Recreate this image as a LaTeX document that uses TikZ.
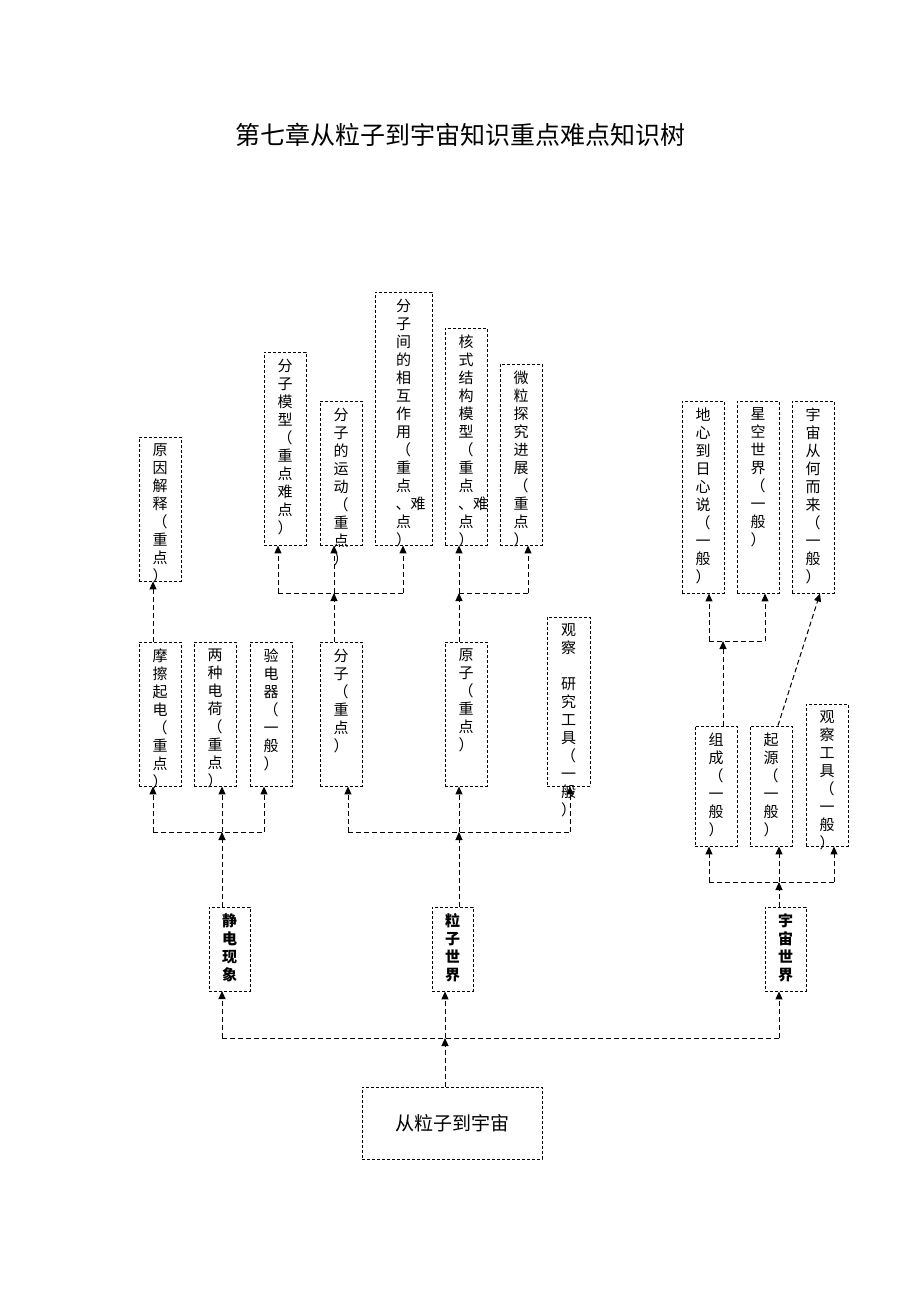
\documentclass[tikz,border=0pt]{standalone}
\usepackage{fontspec}
\setmainfont{Liberation Serif}
\newfontfamily\cjk{Noto Sans CJK SC}
\usetikzlibrary{arrows.meta}
\tikzset{
 bx/.style={draw,dash pattern=on 3pt off 2pt,line width=0.9pt,inner sep=0pt},
 vt/.style={font=\cjk\fontsize{15}{18}\selectfont,align=center,inner sep=0pt,text width=16pt},
 ln/.style={dash pattern=on 5pt off 3pt,line width=1pt},
 ar/.style={ln,-{Triangle[width=7pt,length=8pt]}}
}
\newcommand\vb[6]{%
 \node[bx,minimum width={(#4-#2)*1pt},minimum height={(#5-#3)*1pt}] (#1) at ({(#2+#4)/2},{(#3+#5)/2}) {};
 \node[vt,anchor=north] (#1t) at ([yshift=-7pt]#1.north) {#6};}
\begin{document}
\begin{tikzpicture}[x=1pt,y=-1pt]
\useasboundingbox (0,0) rectangle (920,1302);
\node[font=\cjk\fontsize{25}{28}\selectfont] (title) at (460,135) {第七章从粒子到宇宙知识重点难点知识树};
% top row
\vb{a1}{139}{437}{181}{581}{原\\因\\解\\释\\（\\重\\点\\）}
\vb{b1}{264}{352}{306}{545}{分\\子\\模\\型\\（\\重\\点\\难\\点\\）}
\vb{b2}{320}{401}{362}{545}{分\\子\\的\\运\\动\\（\\重\\点\\）}
\vb{b3}{375}{292}{432}{545}{分\\子\\间\\的\\相\\互\\作\\用\\（\\重\\点\\、难\\点\\）}
\vb{c1}{445}{328}{487}{545}{核\\式\\结\\构\\模\\型\\（\\重\\点\\、难\\点\\）}
\vb{c2}{500}{364}{542}{545}{微\\粒\\探\\究\\进\\展\\（\\重\\点\\）}
\vb{d1}{682}{401}{724}{593}{地\\心\\到\\日\\心\\说\\（\\一\\般\\）}
\vb{d2}{737}{401}{779}{593}{星\\空\\世\\界\\（\\一\\般\\）}
\vb{d3}{792}{401}{834}{593}{宇\\宙\\从\\何\\而\\来\\（\\一\\般\\）}
% second row
\vb{e1}{139}{642}{181}{786}{摩\\擦\\起\\电\\（\\重\\点\\）}
\vb{e2}{194}{642}{236}{786}{两\\种\\电\\荷\\（\\重\\点\\）}
\vb{e3}{250}{642}{292}{786}{验\\电\\器\\（\\一\\般\\）}
\vb{f1}{320}{642}{362}{786}{分\\子\\（\\重\\点\\）}
\vb{f2}{445}{642}{487}{786}{原\\子\\（\\重\\点\\）}
\vb{f3}{547}{617}{590}{786}{观\\察\\~\\研\\究\\工\\具\\（\\一\\般\\）}
\vb{g1}{695}{726}{737}{846}{组\\成\\（\\一\\般\\）}
\vb{g2}{750}{726}{792}{846}{起\\源\\（\\一\\般\\）}
\vb{g3}{806}{704}{848}{846}{观\\察\\工\\具\\（\\一\\般\\）}
% level 1
\vb{h1}{209}{907}{250}{991}{\bfseries 静\\电\\现\\象}
\vb{h2}{432}{907}{473}{991}{\bfseries 粒\\子\\世\\界}
\vb{h3}{765}{907}{806}{991}{\bfseries 宇\\宙\\世\\界}
\node[bx,minimum width=180pt,minimum height=72pt,font=\cjk\fontsize{19}{22}\selectfont] (root) at (452,1123) {从粒子到宇宙};
% junctions
\coordinate (jr) at (445,1038);
\coordinate (j1) at (222,832);
\coordinate (j2) at (459,832);
\coordinate (j3) at (779,882);
\coordinate (jb) at (334,593);
\coordinate (jc) at (459,593);
\coordinate (jd) at (723,641);
% root
\draw[ar] (root.north -| jr) -- (jr);
\draw[ln] (222,1038) -- (779,1038);
\draw[ar] (jr -| h1) ++(0,0) coordinate (t1) (222,1038) -- (222,991);
\draw[ar] (jr) -- (h2.south -| jr);
\draw[ar] (779,1038) -- (h3.south -| 779,0);
% static
\draw[ar] (h1.north -| j1) -- (j1);
\draw[ln] (153,832) -- (264,832);
\draw[ar] (153,832) -- (e1.south -| 153,0);
\draw[ar] (j1) -- (e2.south -| j1);
\draw[ar] (264,832) -- (e3.south -| 264,0);
% particle
\draw[ar] (h2.north -| j2) -- (j2);
\draw[ln] (348,832) -- (570,832);
\draw[ar] (348,832) -- (f1.south -| 348,0);
\draw[ar] (j2) -- (f2.south -| j2);
\draw[ar] (570,832) -- (f3.south -| 570,0);
% universe
\draw[ar] (h3.north -| j3) -- (j3);
\draw[ln] (709,882) -- (834,882);
\draw[ar] (709,882) -- (g1.south -| 709,0);
\draw[ar] (j3) -- (g2.south -| j3);
\draw[ar] (834,882) -- (g3.south -| 834,0);
% upper
\draw[ar] (e1.north -| 153,0) -- (a1.south -| 153,0);
\draw[ar] (f1.north -| jb) -- (jb);
\draw[ln] (278,593) -- (403,593);
\draw[ar] (278,593) -- (b1.south -| 278,0);
\draw[ar] (jb) -- (b2.south -| jb);
\draw[ar] (403,593) -- (b3.south -| 403,0);
\draw[ar] (f2.north -| jc) -- (jc);
\draw[ln] (459,593) -- (528,593);
\draw[ar] (jc) -- (c1.south -| jc);
\draw[ar] (528,593) -- (c2.south -| 528,0);
\draw[ar] (g1.north -| jd) -- (jd);
\draw[ln] (709,641) -- (765,641);
\draw[ar] (709,641) -- (d1.south -| 709,0);
\draw[ar] (765,641) -- (d2.south -| 765,0);
\draw[ar] (g2.north -| 778,0) -- (d3.south -| 820,0);
\end{tikzpicture}
\end{document}
